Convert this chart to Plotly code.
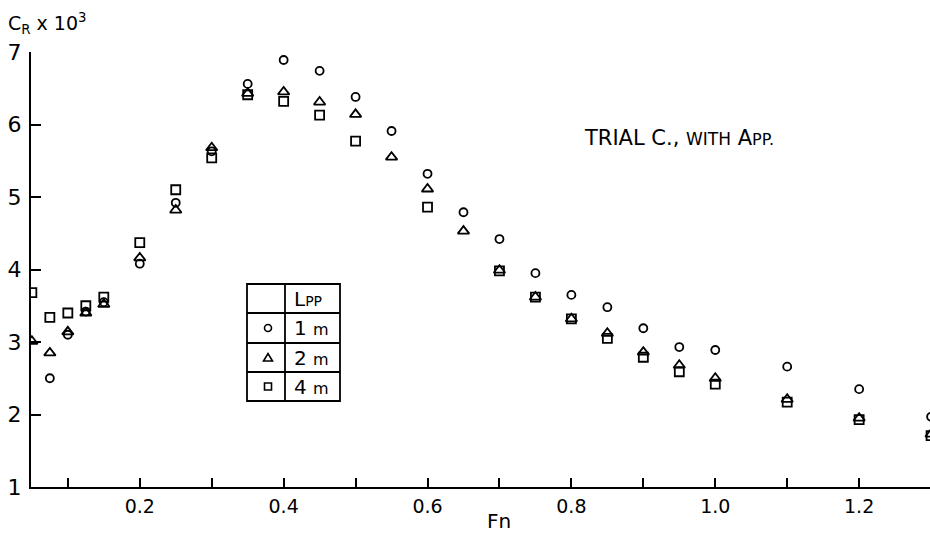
import plotly.graph_objects as go

# ---------------- data ----------------
fn = [0.05, 0.075, 0.10, 0.125, 0.15, 0.20, 0.25, 0.30, 0.35, 0.40, 0.45, 0.50,
      0.55, 0.60, 0.65, 0.70, 0.75, 0.80, 0.85, 0.90, 0.95, 1.00, 1.10, 1.20, 1.30]
cr_1m = [None, 2.50, 3.10, 3.42, 3.55, 4.08, 4.92, 5.63, 6.56, 6.89, 6.74, 6.38,
         5.91, 5.32, 4.79, 4.42, 3.95, 3.65, 3.48, 3.19, 2.93, 2.89, 2.66, 2.35, 1.97]
cr_2m = [3.01, 2.85, 3.14, 3.40, 3.52, 4.16, 4.82, 5.68, 6.43, 6.45, 6.31, 6.14,
         5.55, 5.11, 4.53, 3.99, 3.62, 3.32, 3.12, 2.86, 2.68, 2.50, 2.21, 1.95, 1.73]
cr_4m = [3.68, 3.34, 3.40, 3.50, 3.62, 4.37, 5.10, 5.54, 6.41, 6.32, 6.13, 5.77,
         None, 4.86, None, 3.98, 3.62, 3.32, 3.05, 2.79, 2.59, 2.42, 2.17, 1.93, 1.71]

x_tickvals = [0.2, 0.4, 0.6, 0.8, 1.0, 1.2]
x_ticktext = ["0.2", "0.4", "0.6", "0.8", "1.0", "1.2"]
x_minor_tickvals = [0.1, 0.3, 0.5, 0.7, 0.9, 1.1]
y_tickvals = [1, 2, 3, 4, 5, 6, 7]
legend_header = "L<span style='font-size:14px'>PP</span>"
legend_rows = ["1 <span style='font-size:16px'>m</span>",
               "2 <span style='font-size:16px'>m</span>",
               "4 <span style='font-size:16px'>m</span>"]

FONT = "DejaVu Sans"
INK = "black"

# ---------------- layout geometry ----------------
W, H = 930, 534
ML, MR, MT, MB = 31, 0, 52, 47
PW, PH = W - ML - MR, H - MT - MB


def px(xp):
    return (xp - ML) / PW


def py(yp):
    return (H - MB - yp) / PH


fig = go.Figure()

mk_line = dict(width=1.8, color=INK)
fig.add_trace(go.Scatter(x=fn, y=cr_1m, mode="markers", name="1 m",
                         marker=dict(symbol="circle-open", size=8, color=INK, line=mk_line)))
fig.add_trace(go.Scatter(x=fn, y=cr_2m, mode="markers", name="2 m",
                         marker=dict(symbol="triangle-up-open", size=10, color=INK, line=mk_line)))
fig.add_trace(go.Scatter(x=fn, y=cr_4m, mode="markers", name="4 m",
                         marker=dict(symbol="square-open", size=9, color=INK, line=mk_line)))

shapes = []
# legend table
bx0, bx1, by0, by1 = 247, 340, 284, 401
colx = 285
rows_y = [284, 313, 343, 372, 401]
shapes.append(dict(type="rect", xref="paper", yref="paper",
                   x0=px(bx0), x1=px(bx1), y0=py(by1), y1=py(by0),
                   line=dict(color=INK, width=1.8)))
shapes.append(dict(type="line", xref="paper", yref="paper",
                   x0=px(colx), x1=px(colx), y0=py(by1), y1=py(by0),
                   line=dict(color=INK, width=1.8)))
for ry in rows_y[1:-1]:
    shapes.append(dict(type="line", xref="paper", yref="paper",
                       x0=px(bx0), x1=px(bx1), y0=py(ry), y1=py(ry),
                       line=dict(color=INK, width=1.8)))

sym_x = 268
centers = [(rows_y[i] + rows_y[i + 1]) / 2 for i in range(4)]
shapes.append(dict(type="circle", xref="paper", yref="paper",
                   xsizemode="pixel", ysizemode="pixel",
                   xanchor=px(sym_x), yanchor=py(centers[1]),
                   x0=-3.5, x1=3.5, y0=-3.5, y1=3.5,
                   line=dict(color=INK, width=1.6)))
shapes.append(dict(type="path", xref="paper", yref="paper",
                   xsizemode="pixel", ysizemode="pixel",
                   xanchor=px(sym_x), yanchor=py(centers[2]),
                   path="M -4.5,-3.5 L 4.5,-3.5 L 0,4 Z",
                   line=dict(color=INK, width=1.6)))
shapes.append(dict(type="rect", xref="paper", yref="paper",
                   xsizemode="pixel", ysizemode="pixel",
                   xanchor=px(sym_x), yanchor=py(centers[3]),
                   x0=-3.5, x1=3.5, y0=-3.5, y1=3.5,
                   line=dict(color=INK, width=1.6)))

annotations = []
annotations.append(dict(text=legend_header,
                        xref="paper", yref="paper", x=px(292), y=py(centers[0]),
                        xanchor="left", yanchor="middle", showarrow=False,
                        font=dict(family=FONT, size=20, color=INK)))
for i, t in enumerate(legend_rows):
    annotations.append(dict(text=t, xref="paper", yref="paper",
                            x=px(292), y=py(centers[i + 1]),
                            xanchor="left", yanchor="middle", showarrow=False,
                            font=dict(family=FONT, size=20, color=INK)))

annotations.append(dict(text="C<sub>R</sub> x 10<sup>3</sup>",
                        xref="paper", yref="paper", x=px(6), y=py(24),
                        xanchor="left", yanchor="middle", showarrow=False,
                        font=dict(family=FONT, size=19, color=INK)))
annotations.append(dict(text="Fn", xref="paper", yref="paper",
                        x=px(499), y=py(521), xanchor="center", yanchor="middle",
                        showarrow=False, font=dict(family=FONT, size=20, color=INK)))
annotations.append(dict(text="TRIAL C., <span style='font-size:17px'>WITH</span> A<span style='font-size:16px'>PP.</span>",
                        xref="paper", yref="paper", x=px(582), y=py(138),
                        xanchor="left", yanchor="middle", showarrow=False,
                        font=dict(family=FONT, size=21, color=INK)))

fig.update_layout(
    width=W, height=H,
    margin=dict(l=ML, r=MR, t=MT, b=MB, pad=0),
    paper_bgcolor="white", plot_bgcolor="white",
    showlegend=False,
    font=dict(family=FONT, color=INK),
    shapes=shapes, annotations=annotations,
    xaxis=dict(range=[0.0488, 1.2985], tickvals=x_tickvals, ticktext=x_ticktext,
               ticks="inside", ticklen=9, tickwidth=2, tickcolor=INK,
               minor=dict(tickvals=x_minor_tickvals, ticks="inside",
                          ticklen=9, tickwidth=2, tickcolor=INK, showgrid=False),
               showline=True, linecolor=INK, linewidth=2, showgrid=False,
               zeroline=False, tickfont=dict(family=FONT, size=19, color=INK),
               ticklabelstandoff=1),
    yaxis=dict(range=[1, 7], tickvals=y_tickvals,
               ticks="inside", ticklen=10, tickwidth=2, tickcolor=INK,
               showline=True, linecolor=INK, linewidth=2, showgrid=False,
               zeroline=False, tickfont=dict(family=FONT, size=22, color=INK),
               ticklabelstandoff=3),
)

fig.write_html("out.html", config={"displayModeBar": False},
               post_script="document.body.style.margin='0';document.body.style.overflow='hidden';")
